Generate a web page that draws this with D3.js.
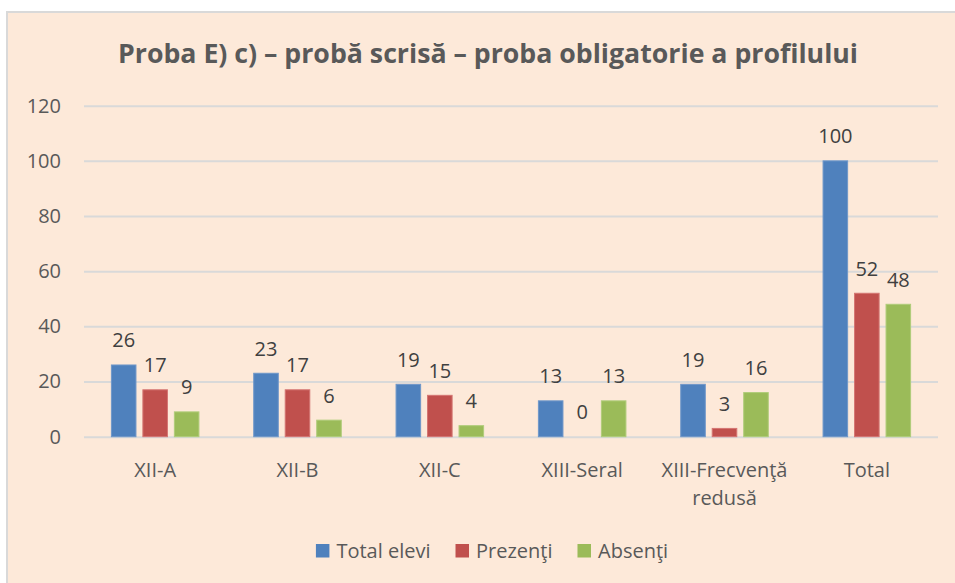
<!DOCTYPE html>
<html>
<head>
<meta charset="utf-8">
<script src="https://cdn.jsdelivr.net/npm/d3@7/dist/d3.min.js"></script>
<style>
  html, body { margin: 0; padding: 0; background: #fff; }
  svg { display: block; font-family: "Open Sans", Lato, sans-serif; }
</style>
</head>
<body>
<div id="container-chart"></div>
<script>
// data
const categories = ["XII-A", "XII-B", "XII-C", "XIII-Seral", "XIII-Frecvenţă redusă", "Total"];
const categoryLines = [["XII-A"], ["XII-B"], ["XII-C"], ["XIII-Seral"], ["XIII-Frecvenţă", "redusă"], ["Total"]];
const seriesNames = ["Total elevi", "Prezenţi", "Absenţi"];
const totalElevi = [26, 23, 19, 13, 19, 100];
const prezenti = [17, 17, 15, 0, 3, 52];
const absenti = [9, 6, 4, 13, 16, 48];
const yTicks = [0, 20, 40, 60, 80, 100, 120];
const titleText = "Proba E) c) – probă scrisă – proba obligatorie a profilului";

const colors = ["#4f81bd", "#c0504d", "#9bbb59"];
const strokes = ["#6f97c9", "#d47572", "#b0cc7a"];
const textColor = "#595959";
const fontFam = "'Open Sans', Lato, sans-serif";

const W = 955, H = 583;
const margin = {top: 105.7, right: 17, bottom: 146.3, left: 84};
const width = W - margin.left - margin.right;
const height = H - margin.top - margin.bottom;

const rows = categories.map((c, i) => ({
  cat: c,
  values: [totalElevi[i], prezenti[i], absenti[i]]
}));

const svg = d3.select("#container-chart")
  .append("svg")
  .attr("width", W)
  .attr("height", H);

// chart area background with left/top border
svg.append("rect")
  .attr("x", 7).attr("y", 12)
  .attr("width", W - 7).attr("height", H - 12)
  .attr("fill", "#fde9d9");
svg.append("path")
  .attr("d", `M7,${H} V12 H${W}`)
  .attr("fill", "none")
  .attr("stroke", "#d9d9d9")
  .attr("stroke-width", 2);

const title = svg.append("text")
  .attr("x", 488).attr("y", 63)
  .attr("text-anchor", "middle")
  .attr("font-size", 27)
  .attr("font-weight", "bold")
  .attr("fill", textColor)
  .text(titleText);
// squeeze the title to the width it has in the picture
if (title.node().getComputedTextLength() > 740) {
  title.attr("textLength", 740).attr("lengthAdjust", "spacingAndGlyphs");
}

const g = svg.append("g")
  .attr("transform", "translate(" + margin.left + "," + margin.top + ")");

const x0 = d3.scaleBand()
  .domain(categories)
  .range([0, width])
  .paddingInner(0.385)
  .paddingOuter(0.1925);

const x1 = d3.scaleBand()
  .domain(d3.range(seriesNames.length))
  .range([0, x0.bandwidth()])
  .paddingInner(0.22);

const y = d3.scaleLinear()
  .domain([0, 120])
  .range([height, 0]);

// gridlines + y labels
const yAxis = g.append("g")
  .call(d3.axisLeft(y).tickValues(yTicks).tickSize(-width).tickPadding(23));
yAxis.select(".domain").remove();
yAxis.selectAll(".tick line")
  .attr("stroke", "#d9d9d9")
  .attr("stroke-width", 2);
yAxis.selectAll(".tick text")
  .attr("fill", textColor)
  .attr("font-size", 20)
  .attr("font-family", fontFam);

// bars
const groups = g.selectAll(".grp")
  .data(rows)
  .join("g")
  .attr("class", "grp")
  .attr("transform", d => "translate(" + x0(d.cat) + ",0)");

groups.selectAll("rect")
  .data(d => d.values.map((v, k) => ({k, v})))
  .join("rect")
  .attr("x", d => x1(d.k))
  .attr("width", x1.bandwidth())
  .attr("y", d => y(d.v))
  .attr("height", d => height - y(d.v))
  .attr("fill", d => colors[d.k])
  .attr("stroke", d => d.v > 0 ? strokes[d.k] : "none")
  .attr("stroke-width", 1);

groups.selectAll(".lbl")
  .data(d => d.values.map((v, k) => ({k, v})))
  .join("text")
  .attr("class", "lbl")
  .attr("x", d => x1(d.k) + x1.bandwidth() / 2)
  .attr("y", d => y(d.v) - 17.5)
  .attr("text-anchor", "middle")
  .attr("font-size", 20)
  .attr("fill", "#404040")
  .text(d => d.v);

// category labels
const xl = g.selectAll(".xl")
  .data(categories)
  .join("text")
  .attr("class", "xl")
  .attr("text-anchor", "middle")
  .attr("font-size", 20)
  .attr("fill", textColor)
  .attr("transform", d => "translate(" + (x0(d) + x0.bandwidth() / 2) + "," + (height + 40) + ")");
xl.selectAll("tspan")
  .data((d, i) => categoryLines[i])
  .join("tspan")
  .attr("x", 0)
  .attr("dy", (d, i) => i === 0 ? 0 : 28.5)
  .text(d => d);

// legend
const legend = svg.append("g");
let lx = 0;
seriesNames.forEach((name, k) => {
  const item = legend.append("g").attr("transform", "translate(" + lx + ",0)");
  item.append("rect")
    .attr("x", 0).attr("y", 544)
    .attr("width", 13.5).attr("height", 13.5)
    .attr("fill", colors[k]);
  const t = item.append("text")
    .attr("x", 20.5).attr("y", 558)
    .attr("font-size", 20)
    .attr("fill", textColor)
    .text(name);
  lx += 20.5 + t.node().getComputedTextLength() + 25;
});
const legendW = lx - 25;
legend.attr("transform", "translate(" + (492 - legendW / 2) + ",0)");
</script>
</body>
</html>
